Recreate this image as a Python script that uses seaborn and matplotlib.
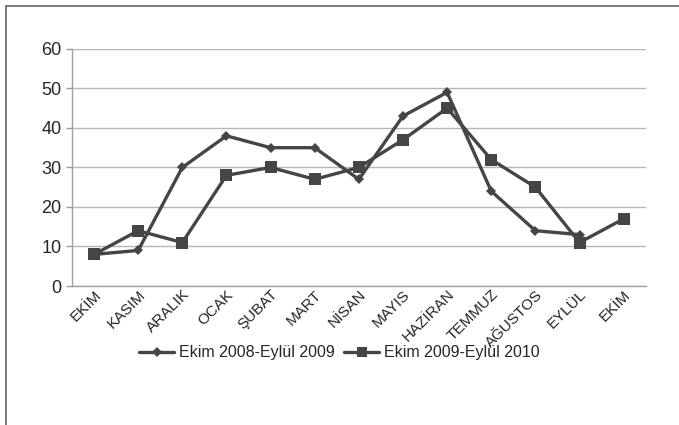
import numpy as np
import pandas as pd
import seaborn as sns
import matplotlib.pyplot as plt
from matplotlib.lines import Line2D

# aylar ve iki dönemin değerleri
aylar = ["EKİM", "KASIM", "ARALIK", "OCAK", "ŞUBAT", "MART", "NİSAN",
         "MAYIS", "HAZİRAN", "TEMMUZ", "AĞUSTOS", "EYLÜL", "EKİM"]
donem1 = [8, 9, 30, 38, 35, 35, 27, 43, 49, 24, 14, 13, np.nan]
donem2 = [8, 14, 11, 28, 30, 27, 30, 37, 45, 32, 25, 11, 17]
seri_adlari = ["Ekim 2008-Eylül 2009", "Ekim 2009-Eylül 2010"]

df = pd.DataFrame({
    "x": list(range(len(aylar))) * 2,
    "deger": donem1 + donem2,
    "seri": [seri_adlari[0]] * len(aylar) + [seri_adlari[1]] * len(aylar),
})

sns.set_style("white")
plt.rcParams["font.family"] = ["Liberation Sans", "DejaVu Sans"]

renk = "#454545"
fig = plt.figure(figsize=(6.79, 4.25), dpi=100)
ax = fig.add_axes([0.106, 0.327, 0.845, 0.558])

sns.lineplot(data=df, x="x", y="deger", hue="seri", style="seri",
             markers={seri_adlari[0]: "D", seri_adlari[1]: "s"},
             dashes=False, palette=[renk, renk], linewidth=2.4,
             markersize=8, markeredgewidth=0, ax=ax, legend=False)
# karo işaretler biraz daha küçük
ax.lines[0].set_markersize(5.5)

ax.set_xlim(-0.5, len(aylar) - 0.5)
ax.set_ylim(0, 60)
ax.set_yticks(range(0, 61, 10))
ax.yaxis.grid(True, color="#b5b5b5", linewidth=1)
ax.set_xticks(range(len(aylar)))
ax.set_xticklabels(aylar, rotation=45, ha="right", rotation_mode="anchor")
ax.set_xticks(np.arange(-0.5, len(aylar), 1), minor=True)
ax.tick_params(axis="x", which="major", length=0, pad=1, labelsize=11)
ax.tick_params(axis="x", which="minor", length=4, color="#999999", width=1)
ax.tick_params(axis="y", length=4, color="#999999", width=1, labelsize=13, left=True)
ax.set_xlabel("")
ax.set_ylabel("")
for s in ["top", "right"]:
    ax.spines[s].set_visible(False)
for s in ["left", "bottom"]:
    ax.spines[s].set_color("#a0a0a0")
    ax.spines[s].set_linewidth(1)

tutamaclar = [
    Line2D([], [], color=renk, linewidth=2.4, marker="D", markersize=5, markeredgewidth=0),
    Line2D([], [], color=renk, linewidth=2.4, marker="s", markersize=7, markeredgewidth=0),
]
fig.legend(tutamaclar, seri_adlari, loc="center", bbox_to_anchor=(0.5, 1 - 353 / 425),
           ncol=2, frameon=False, fontsize=11.5, handlelength=2.2, columnspacing=0.6,
           handletextpad=0.3)

# çerçeve: sol ve üst kenar
fig.add_artist(Line2D([0.0095, 0.0095], [0, 0.985], transform=fig.transFigure,
                      color="#707070", linewidth=1.3))
fig.add_artist(Line2D([0.0095, 1], [0.985, 0.985], transform=fig.transFigure,
                      color="#707070", linewidth=1.3))

fig.savefig("out.png", dpi=100)
